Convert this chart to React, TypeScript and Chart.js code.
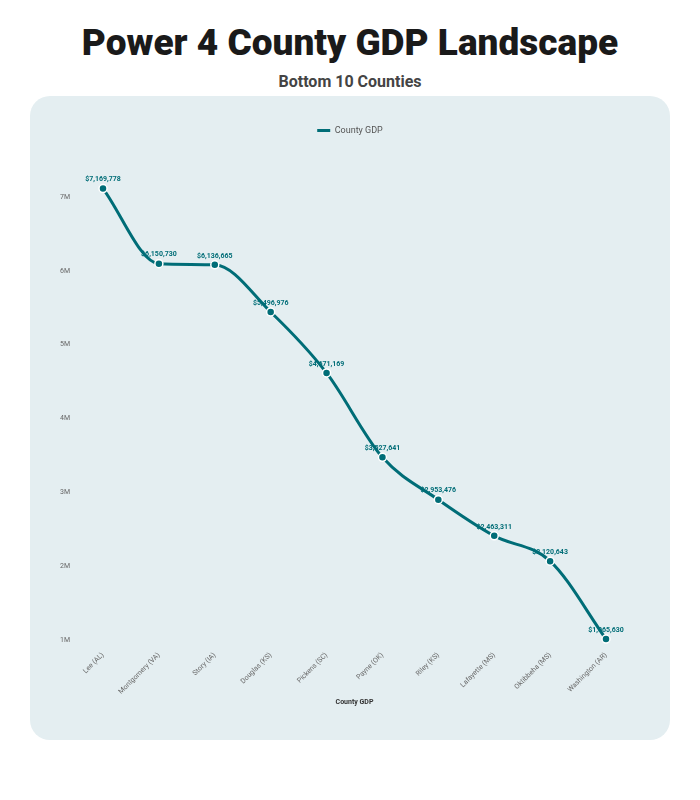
import React, { useEffect, useRef } from "react";
import { Chart, registerables } from "chart.js";

Chart.register(...registerables);

const counties = [
  "Lee (AL)",
  "Montgomery (VA)",
  "Story (IA)",
  "Douglas (KS)",
  "Pickens (SC)",
  "Payne (OK)",
  "Riley (KS)",
  "Lafayette (MS)",
  "Oktibbeha (MS)",
  "Washington (AR)",
];
const gdpValues = [7169778, 6150730, 6136665, 5496976, 4671169, 3527641, 2953476, 2463311, 2120643, 1065630];
const yTickValues = [1000000, 2000000, 3000000, 4000000, 5000000, 6000000, 7000000];
const yMin = 944000;
const yMax = 7292000;

const TEAL = "#006d77";
const FONT = "Roboto, 'Noto Sans', sans-serif";

const dataLabelPlugin = {
  id: "dataLabels",
  beforeDatasetsDraw(chart: any) {
    const ctx = chart.ctx;
    const meta = chart.getDatasetMeta(0);
    ctx.save();
    ctx.font = `bold 7px ${FONT}`;
    ctx.fillStyle = TEAL;
    ctx.textAlign = "center";
    ctx.textBaseline = "middle";
    meta.data.forEach((pt: any, i: number) => {
      const v = gdpValues[i];
      ctx.fillText("$" + v.toLocaleString("en-US"), pt.x, pt.y - 9);
    });
    ctx.restore();
  },
};

const legendLayoutPlugin = {
  id: "legendLayout",
  beforeInit(chart: any) {
    const legend = chart.legend;
    if (!legend) return;
    const origFit = legend.fit;
    legend.fit = function () {
      origFit.call(this);
      this.height += 34.5;
    };
  },
  afterLayout(chart: any) {
    const legend = chart.legend;
    if (!legend) return;
    legend.left = 0;
    legend.right = chart.width;
    legend.width = chart.width;
  },
};

export default function App() {
  const canvasRef = useRef<HTMLCanvasElement | null>(null);

  useEffect(() => {
    if (!canvasRef.current) return;
    const chart = new Chart(canvasRef.current, {
      type: "line",
      data: {
        labels: counties,
        datasets: [
          {
            label: "County GDP",
            data: gdpValues,
            borderColor: TEAL,
            backgroundColor: TEAL,
            borderWidth: 3,
            cubicInterpolationMode: "monotone",
            pointRadius: 4,
            pointBorderColor: "#ffffff",
            pointBorderWidth: 1.5,
            pointBackgroundColor: TEAL,
            pointStyle: "circle",
            fill: false,
          },
        ],
      },
      options: {
        animation: false,
        responsive: false,
        maintainAspectRatio: false,
        layout: { padding: { top: 20, left: 30, right: 64, bottom: 30 } },
        plugins: {
          legend: {
            display: true,
            position: "top",
            labels: {
              usePointStyle: true,
              pointStyleWidth: 13,
              boxHeight: 9,
              padding: 10,
              color: "#555",
              font: { family: FONT, size: 9 },
              generateLabels: (chart: any) => [
                {
                  text: "County GDP",
                  fillStyle: TEAL,
                  strokeStyle: TEAL,
                  lineWidth: 3,
                  pointStyle: "line",
                  hidden: false,
                  datasetIndex: 0,
                  fontColor: "#555",
                },
              ],
            },
          },
          tooltip: { enabled: false },
        },
        scales: {
          x: {
            grid: { display: false, drawTicks: false },
            border: { display: false },
            afterFit(scale: any) {
              scale.height = 62;
            },
            ticks: {
              minRotation: 45,
              maxRotation: 45,
              color: "#666",
              padding: 3,
              font: { family: FONT, size: 7 },
            },
            title: {
              display: true,
              text: "County GDP",
              color: "#333",
              font: { family: FONT, size: 7, weight: "bold" },
              padding: { top: 6, bottom: 4 },
            },
          },
          y: {
            min: yMin,
            max: yMax,
            grid: { display: false, drawTicks: false },
            border: { display: false },
            afterBuildTicks(scale: any) {
              scale.ticks = yTickValues.map((v) => ({ value: v }));
            },
            afterFit(scale: any) {
              scale.width = 43;
            },
            ticks: {
              color: "#666",
              padding: 33,
              labelOffset: -4,
              font: { family: FONT, size: 7 },
              callback: (v: any) => Math.round(Number(v) / 1000000) + "M",
            },
          },
        },
      },
      plugins: [dataLabelPlugin, legendLayoutPlugin],
    });
    return () => chart.destroy();
  }, []);

  return (
    <div style={{ position: "absolute", left: 0, top: 0, width: 700, height: 800, fontFamily: FONT }}>
      <div
        style={{
          position: "absolute",
          left: 0,
          top: 20,
          width: 700,
          textAlign: "center",
          fontSize: 37,
          fontWeight: 900,
          color: "#1a1a1a",
          lineHeight: "46px",
        }}
      >
        Power 4 County GDP Landscape
      </div>
      <div
        style={{
          position: "absolute",
          left: 0,
          top: 72,
          width: 700,
          textAlign: "center",
          fontSize: 16,
          fontWeight: 700,
          color: "#444",
          lineHeight: "20px",
        }}
      >
        Bottom 10 Counties
      </div>
      <div
        style={{
          position: "absolute",
          left: 30,
          top: 96,
          width: 640,
          height: 644,
          borderRadius: 20,
          background: "#e4eef1",
          overflow: "hidden",
        }}
      >
        <canvas ref={canvasRef} width={640} height={644} style={{ display: "block", width: 640, height: 644 }} />
      </div>
    </div>
  );
}
